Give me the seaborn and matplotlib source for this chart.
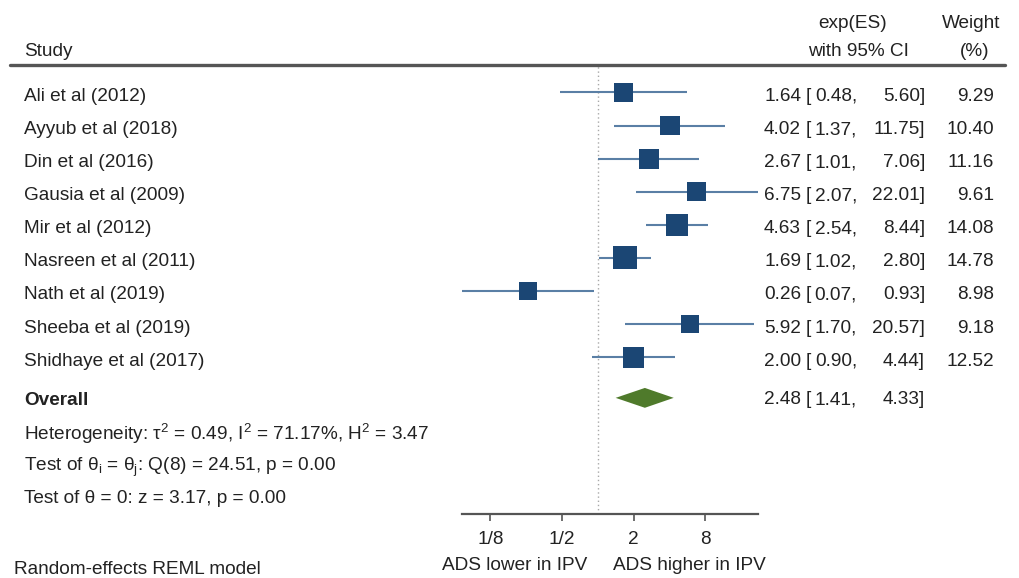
import matplotlib
matplotlib.use("Agg")
import matplotlib.pyplot as plt
import matplotlib.transforms as mtransforms
import seaborn as sns
import pandas as pd
import numpy as np

studies = ["Ali et al (2012)", "Ayyub et al (2018)", "Din et al (2016)",
           "Gausia et al (2009)", "Mir et al (2012)", "Nasreen et al (2011)",
           "Nath et al (2019)", "Sheeba et al (2019)", "Shidhaye et al (2017)"]
es = [1.64, 4.02, 2.67, 6.75, 4.63, 1.69, 0.26, 5.92, 2.00]
lo = [0.48, 1.37, 1.01, 2.07, 2.54, 1.02, 0.07, 1.70, 0.90]
hi = [5.60, 11.75, 7.06, 22.01, 8.44, 2.80, 0.93, 20.57, 4.44]
weight = [9.29, 10.40, 11.16, 9.61, 14.08, 14.78, 8.98, 9.18, 12.52]
overall = (2.48, 1.41, 4.33)
tick_vals = [1/8, 1/2, 2, 8]
tick_labels = ["1/8", "1/2", "2", "8"]
het_lines = [r"Heterogeneity: τ$^2$ = 0.49, I$^2$ = 71.17%, H$^2$ = 3.47",
             r"Test of θ$_i$ = θ$_j$: Q(8) = 24.51, p = 0.00",
             r"Test of θ = 0: z = 3.17, p = 0.00"]

sns.set_style("white")
plt.rcParams['font.family'] = ['Liberation Sans', 'DejaVu Sans']
plt.rcParams['mathtext.fontset'] = 'custom'
plt.rcParams['mathtext.rm'] = 'Liberation Sans'
plt.rcParams['mathtext.it'] = 'Liberation Sans'
plt.rcParams['mathtext.bf'] = 'Liberation Sans:bold'

W, H = 1019, 578
fs = 13.7
txt = "#222222"
sq_col = "#1b4674"
ci_col = "#5a7fa5"
dia_col = "#4f7a2b"

df = pd.DataFrame({"study": studies, "es": es, "lo": lo, "hi": hi, "weight": weight})
df["row"] = np.arange(len(df))
overall_row = 9.23

fig = plt.figure(figsize=(W / 100, H / 100), dpi=100)
fig.patch.set_facecolor("white")
ax = fig.add_axes([462 / W, (H - 514) / H, 296 / W, 448 / H])
ax.set_xscale("log", base=2)
ax.set_xlim(0.0723, 22.1)
ax.set_ylim(12.74, -0.8)

# reference line at 1
ax.axvline(1, color="#a8a8a8", lw=1, ls=(0, (1, 2)), zorder=0)

# confidence intervals
ax.hlines(df["row"], df["lo"], df["hi"], color=ci_col, lw=1.5, zorder=1)

# study squares, area proportional to weight
sns.scatterplot(data=df, x="es", y="row", size="weight", sizes=(0, 1866),
                size_norm=(0, 100), marker="s", color=sq_col, linewidth=0,
                legend=False, ax=ax, zorder=2)

# overall diamond
oes, olo, ohi = overall
ax.fill([olo, oes, ohi, oes], [overall_row, overall_row - 0.3, overall_row, overall_row + 0.3],
        color=dia_col, lw=0, zorder=2)

for s in ["top", "left", "right"]:
    ax.spines[s].set_visible(False)
ax.spines["bottom"].set_color("#555555")
ax.spines["bottom"].set_linewidth(1.6)
ax.set_yticks([])
ax.set_xticks(tick_vals)
ax.set_xticklabels(tick_labels)
ax.xaxis.set_minor_locator(matplotlib.ticker.NullLocator())
ax.tick_params(axis="x", direction="out", length=5, width=1.2, color="#555555",
               labelsize=fs, labelcolor=txt, pad=7, bottom=True)
ax.set_xlabel("")
ax.set_ylabel("")

# text columns: x in figure fraction, y in row units
tr = mtransforms.blended_transform_factory(fig.transFigure, ax.transData)
kw = dict(transform=tr, fontsize=fs, color=txt, va="center_baseline")
for i, r in df.iterrows():
    y = r["row"] + 0.06
    fig.text(24 / W, y, r["study"], ha="left", **kw)
    fig.text(801 / W, y, f"{r['es']:.2f}", ha="right", **kw)
    fig.text(806 / W, y, "[", ha="left", **kw)
    fig.text(857 / W, y, f"{r['lo']:.2f},", ha="right", **kw)
    fig.text(925 / W, y, f"{r['hi']:.2f}]", ha="right", **kw)
    fig.text(994 / W, y, f"{r['weight']:.2f}", ha="right", **kw)

fig.text(24 / W, overall_row + 0.03, "Overall", ha="left", fontweight="bold", **kw)
fig.text(801 / W, overall_row, f"{oes:.2f}", ha="right", **kw)
fig.text(806 / W, overall_row, "[", ha="left", **kw)
fig.text(857 / W, overall_row, f"{olo:.2f},", ha="right", **kw)
fig.text(925 / W, overall_row, f"{ohi:.2f}]", ha="right", **kw)

for k, line in enumerate(het_lines):
    fig.text(24 / W, 10.24 + k * 0.98, line, ha="left", **kw)

# header
hk = dict(fontsize=fs, color=txt, va="center_baseline")
fig.text(24 / W, 1 - 49 / H, "Study", ha="left", **hk)
fig.text(853 / W, 1 - 22 / H, "exp(ES)", ha="center", **hk)
fig.text(858 / W, 1 - 49 / H, "with 95% CI", ha="center", **hk)
fig.text(971 / W, 1 - 22 / H, "Weight", ha="center", **hk)
fig.text(975 / W, 1 - 49 / H, "(%)", ha="center", **hk)
fig.add_artist(plt.Line2D([10 / W, 1005 / W], [1 - 65 / H, 1 - 65 / H], color="#555555", lw=2.4))

# footer
fig.text(14 / W, 1 - 568 / H, "Random-effects REML model", ha="left", **hk)
fig.text(515 / W, 1 - 563 / H, "ADS lower in IPV", ha="center", **hk)
fig.text(689 / W, 1 - 563 / H, "ADS higher in IPV", ha="center", **hk)

fig.savefig("out.png", dpi=100, facecolor="white")
